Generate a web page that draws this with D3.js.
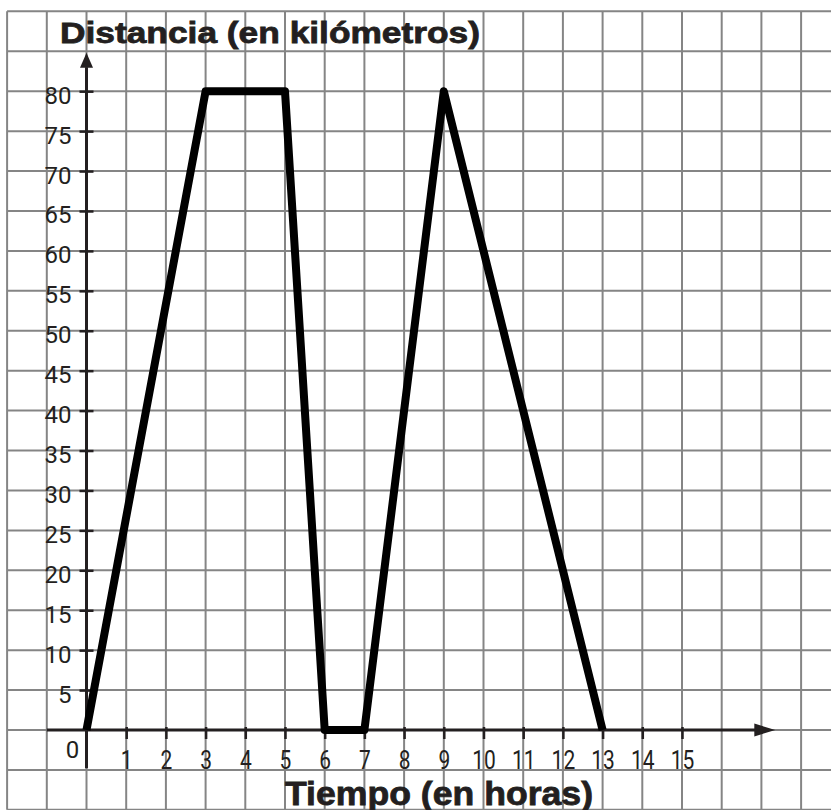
<!DOCTYPE html>
<html>
<head>
<meta charset="utf-8">
<script src="https://cdn.jsdelivr.net/npm/d3@7"></script>
<style>
  body { margin: 0; background: #fff; }
  svg { display: block; }
</style>
</head>
<body>
<svg id="chart" width="831" height="810"></svg>
<script>
// trip: hours vs. distance from home (km)
const hours = [0, 3, 5, 6, 7, 9, 13];
const distances = [0, 80, 80, 0, 0, 80, 0];

const xTicks = [1, 2, 3, 4, 5, 6, 7, 8, 9, 10, 11, 12, 13, 14, 15];
const yTicks = [5, 10, 15, 20, 25, 30, 35, 40, 45, 50, 55, 60, 65, 70, 75, 80];

const yTitle = 'Distancia (en kilómetros)';
const xTitle = 'Tiempo (en horas)';

const W = 831, H = 810;
const ink = '#231f20';
const gridColor = '#858585';

const svg = d3.select('#chart');

const x = d3.scaleLinear().domain([0, 15]).range([86.5, 86.5 + 15 * 39.7]);
const y = d3.scaleLinear().domain([0, 80]).range([730, 730 - 80 * 7.985]);

// square paper grid, one cell = 1 hour x 5 km
const gridX = d3.range(-2, 19);
const gridY = d3.range(-10, 91, 5);
const grid = svg.append('g').attr('stroke', gridColor).attr('stroke-width', 2);
grid.selectAll('line.v')
  .data(gridX)
  .join('line')
  .attr('class', 'v')
  .attr('x1', (d) => x(d)).attr('x2', (d) => x(d))
  .attr('y1', y(90)).attr('y2', y(-10));
grid.selectAll('line.h')
  .data(gridY)
  .join('line')
  .attr('class', 'h')
  .attr('x1', x(-2)).attr('x2', W)
  .attr('y1', (d) => y(d)).attr('y2', (d) => y(d));

// axes
const axisW = 3;
svg.append('line')
  .attr('x1', x(-1)).attr('x2', x(17.1))
  .attr('y1', y(0)).attr('y2', y(0))
  .attr('stroke', ink).attr('stroke-width', axisW);
svg.append('path')
  .attr('d', `M${x(17.35)},${y(0)} L${x(17.35) - 21},${y(0) - 6.5} L${x(17.35) - 21},${y(0) + 6.5} Z`)
  .attr('fill', ink);

svg.append('line')
  .attr('x1', x(0)).attr('x2', x(0))
  .attr('y1', y(-4.8)).attr('y2', y(83))
  .attr('stroke', ink).attr('stroke-width', axisW);
svg.append('path')
  .attr('d', `M${x(0)},${y(84.8)} L${x(0) - 6.5},${y(84.8) + 15} L${x(0) + 6.5},${y(84.8) + 15} Z`)
  .attr('fill', ink);

const yAxis = svg.append('g')
  .attr('transform', `translate(${x(0)},0)`)
  .call(d3.axisLeft(y).tickValues(yTicks).tickSize(7).tickPadding(8));
yAxis.select('.domain').remove();
yAxis.selectAll('.tick line')
  .attr('x1', 7)
  .attr('stroke', ink)
  .attr('stroke-width', 2.5);
yAxis.selectAll('.tick text')
  .attr('font-family', 'Roboto, sans-serif')
  .attr('font-weight', 400)
  .attr('font-size', 24)
  .attr('fill', ink)
  .attr('dy', 12);

const xAxis = svg.append('g')
  .attr('transform', `translate(0,${y(0)})`)
  .call(d3.axisBottom(x).tickValues(xTicks).tickSize(9));
xAxis.select('.domain').remove();
xAxis.selectAll('.tick line')
  .attr('y1', -3)
  .attr('stroke', ink)
  .attr('stroke-width', 2.5);
xAxis.selectAll('.tick text')
  .attr('font-family', 'Roboto, sans-serif')
  .attr('font-weight', 400)
  .attr('font-size', 25)
  .attr('fill', ink)
  .attr('y', 0)
  .attr('dy', 39)
  .attr('transform', 'scale(0.84,1)');

svg.append('text')
  .attr('x', x(0) - 14)
  .attr('y', y(0) + 28)
  .attr('text-anchor', 'middle')
  .attr('font-family', 'Roboto, sans-serif')
  .attr('font-weight', 400)
  .attr('font-size', 24)
  .attr('fill', ink)
  .text('0');

// distance line
const pts = hours.map((h, i) => [h, distances[i]]);
svg.append('path')
  .datum(pts)
  .attr('d', d3.line().x((d) => x(d[0])).y((d) => y(d[1])))
  .attr('fill', 'none')
  .attr('stroke', '#000')
  .attr('stroke-width', 8)
  .attr('stroke-linejoin', 'round');

// axis titles
svg.append('text')
  .attr('x', 60)
  .attr('y', 43)
  .attr('font-family', '"Liberation Sans", Arial, sans-serif')
  .attr('font-weight', 700)
  .attr('font-size', 30)
  .attr('fill', ink)
  .attr('stroke', ink)
  .attr('stroke-width', 0.8)
  .attr('textLength', 420)
  .attr('lengthAdjust', 'spacingAndGlyphs')
  .text(yTitle);

svg.append('text')
  .attr('x', 285)
  .attr('y', 805)
  .attr('font-family', '"Liberation Sans", Arial, sans-serif')
  .attr('font-weight', 700)
  .attr('font-size', 33)
  .attr('fill', ink)
  .attr('stroke', ink)
  .attr('stroke-width', 0.8)
  .attr('textLength', 308)
  .attr('lengthAdjust', 'spacingAndGlyphs')
  .text(xTitle);
</script>
</body>
</html>
